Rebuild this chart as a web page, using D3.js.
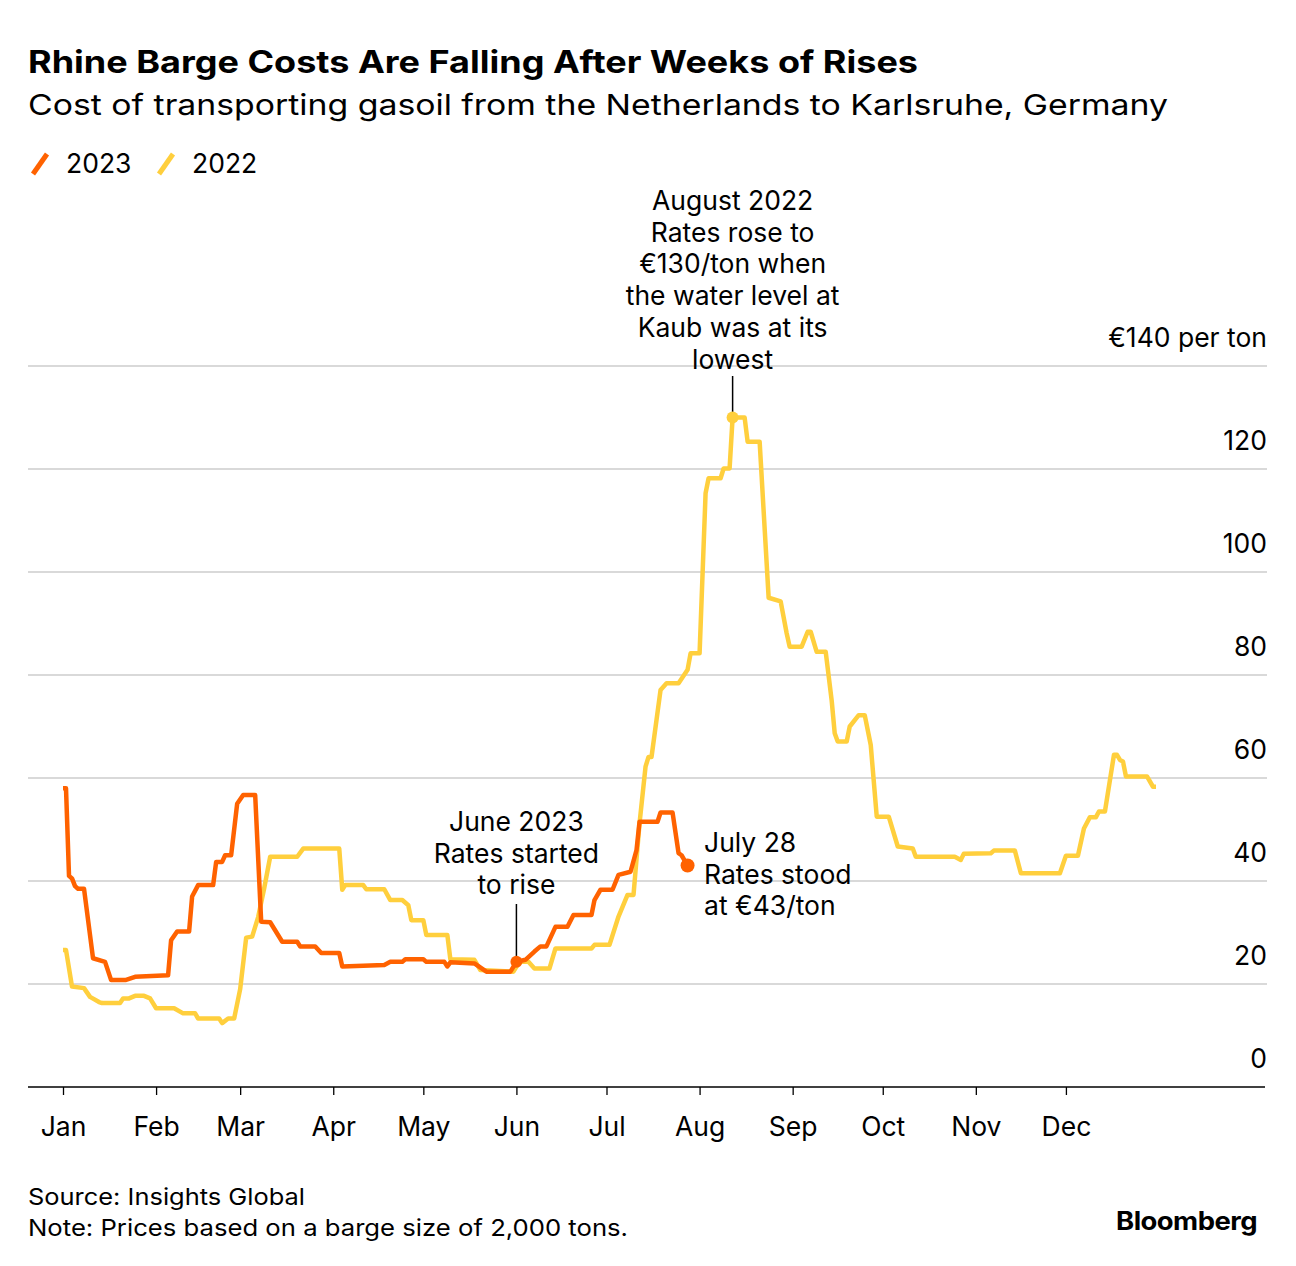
<!DOCTYPE html>
<html>
<head>
<meta charset="utf-8">
<script src="https://cdn.jsdelivr.net/npm/d3@7"></script>
<style>
  html, body { margin: 0; padding: 0; background: #fff; }
  svg { display: block; font-family: "Inter", "Liberation Sans", Arial, sans-serif; }
</style>
</head>
<body>
<svg id="chart" width="1296" height="1266"></svg>
<script>
// ---- data ----
const monthLabels = ["Jan","Feb","Mar","Apr","May","Jun","Jul","Aug","Sep","Oct","Nov","Dec"];
const yTicks = [0, 20, 40, 60, 80, 100, 120, 140];

const dates2023 = ["01-01","01-02","01-03","01-04","01-05","01-06","01-08","01-11","01-15","01-17","01-22","01-25",
  "02-05","02-06","02-08","02-12","02-13","02-15","02-20","02-21","02-23","02-24","02-26","02-28",
  "03-02","03-06","03-08","03-11","03-15","03-20","03-21","03-26","03-28",
  "04-03","04-04","04-18","04-20","04-24","04-25",
  "05-01","05-02","05-08","05-09","05-10","05-18","05-22","05-30",
  "06-01","06-04","06-07","06-09","06-11","06-14","06-18","06-20","06-26","06-27","06-29",
  "07-03","07-05","07-09","07-11","07-12","07-18","07-19","07-23","07-25","07-26","07-28"];
const values2023 = [58,58,41,40.5,39,38.5,38.5,25,24.3,20.8,20.8,21.4,
  21.7,28.5,30.2,30.2,37,39.2,39.2,43.7,43.7,45,45,55,
  56.7,56.7,32.1,32,28.2,28.2,27.3,27.3,26,
  26,23.4,23.7,24.3,24.3,24.8,
  24.8,24.3,24.3,23.4,24.2,24,22.4,22.4,
  24.3,24.7,26.3,27.3,27.3,31.1,31.1,33.4,33.4,36.3,38.3,
  38.3,41.2,41.8,46,51.5,51.5,53.3,53.3,45.4,45,43];

const dates2022 = ["01-01","01-02","01-04","01-08","01-10","01-13","01-14","01-20","01-21","01-23","01-25","01-28","01-30",
  "02-01","02-07","02-10","02-14","02-15","02-22","02-23","02-25","02-27",
  "03-01","03-03","03-05","03-07","03-09","03-11","03-20","03-22",
  "04-03","04-04","04-05","04-11","04-12","04-18","04-20","04-24","04-26","04-27",
  "05-01","05-02","05-09","05-10","05-18","05-20","05-31",
  "06-02","06-05","06-07","06-12","06-14","06-26","06-27",
  "07-02","07-05","07-08","07-10","07-12","07-14","07-15","07-16","07-19","07-21","07-25","07-28","07-29",
  "08-01","08-03","08-04","08-08","08-09","08-11","08-12","08-16","08-17","08-21","08-24","08-28","08-30","08-31",
  "09-04","09-06","09-07","09-09","09-12","09-14","09-15","09-16","09-19","09-20","09-23","09-25","09-27","09-29",
  "10-03","10-06","10-11","10-12","10-25","10-27","10-28",
  "11-06","11-07","11-14","11-16","11-29",
  "12-01","12-05","12-07","12-09","12-11","12-12","12-14","12-17","12-18","12-19","12-20","12-21","12-28","12-30","12-31"];
const values2022 = [26.6,26.6,19.5,19.2,17.5,16.5,16.3,16.3,17.2,17.2,17.7,17.7,17.2,
  15.3,15.3,14.3,14.3,13.3,13.3,12.4,13.3,13.3,
  19,29,29.2,33,38.6,44.7,44.7,46.3,
  46.3,38.3,39.2,39.2,38.4,38.4,36.3,36.3,35.3,32.4,
  32.4,29.5,29.5,24.8,24.7,22.7,22.4,
  24.3,24.3,23,23,26.9,26.9,27.6,
  27.6,33.1,37.3,37.3,51.2,62.2,64.1,64.1,77.1,78.4,78.4,81,84.2,
  84.2,115.3,118.2,118.2,120.1,120.1,130,130,125.3,125.3,95,94.3,88.1,85.5,
  85.5,88.4,88.4,84.5,84.5,75,68.7,67.1,67.1,70,72.2,72.2,66.4,52.5,
  52.5,46.7,46.3,44.7,44.7,44.1,45.3,
  45.4,45.9,45.9,41.5,41.5,
  44.9,44.9,50.2,52.4,52.4,53.5,53.5,64.5,64.5,63.5,63.2,60.3,60.3,58.3,58.3];

const seriesNames = ["2023", "2022"];
const colors = { "2023": "#ff6200", "2022": "#ffcf3d" };

// ---- setup ----
const parse = d3.timeParse("%Y-%m-%d");
const toDate = s => parse("2023-" + s);
const s2023 = dates2023.map((d, i) => ({ date: toDate(d), value: values2023[i] }));
const s2022 = dates2022.map((d, i) => ({ date: toDate(d), value: values2022[i] }));

const svg = d3.select("#chart");
const plotLeft = 28, plotRight = 1267;
const fs = 26.5;
const x = d3.scaleTime().domain([new Date(2023, 0, 1), new Date(2024, 0, 1)]).range([63, 1159]);
const y = d3.scaleLinear().domain([0, 140]).range([1087, 366]);

// fit text to a target width (reference font is wider than installed ones)
function fit(sel, w) {
  const n = sel.node();
  const cur = n.getComputedTextLength();
  if (Math.abs(cur - w) > 2) sel.attr("textLength", w).attr("lengthAdjust", "spacingAndGlyphs");
  return sel;
}

// title
fit(svg.append("text").attr("x", 28).attr("y", 73)
  .attr("font-size", 31).attr("font-weight", 700).attr("fill", "#000")
  .text("Rhine Barge Costs Are Falling After Weeks of Rises"), 890);
fit(svg.append("text").attr("x", 28).attr("y", 115)
  .attr("font-size", 29).attr("fill", "#000")
  .text("Cost of transporting gasoil from the Netherlands to Karlsruhe, Germany"), 1140);

// legend
const legend = svg.append("g");
[["2023", 30, 66], ["2022", 156, 192]].forEach(([name, sx, tx]) => {
  legend.append("line").attr("x1", sx + 3).attr("y1", 174).attr("x2", sx + 17).attr("y2", 154)
    .attr("stroke", colors[name]).attr("stroke-width", 5);
  legend.append("text").attr("x", tx).attr("y", 173).attr("font-size", fs).attr("fill", "#000").text(name);
});

// gridlines
svg.append("g").selectAll("line").data(yTicks.filter(d => d > 0)).join("line")
  .attr("x1", plotLeft).attr("x2", plotRight)
  .attr("y1", d => y(d)).attr("y2", d => y(d))
  .attr("stroke", "#d9d9d9").attr("stroke-width", 2);

// y labels
svg.append("g").selectAll("text").data(yTicks).join("text")
  .attr("x", plotRight).attr("y", d => y(d) - 19)
  .attr("text-anchor", "end").attr("font-size", fs).attr("fill", "#000")
  .text(d => d === 140 ? "€140 per ton" : d);

// x axis
const xAxis = d3.axisBottom(x)
  .tickValues(d3.range(12).map(m => new Date(2023, m, 1)))
  .tickFormat((d, i) => monthLabels[i])
  .tickSize(8).tickPadding(22);
const gx = svg.append("g").attr("transform", `translate(0,${y(0)})`).call(xAxis);
gx.select(".domain").remove();
gx.selectAll(".tick line").attr("stroke", "#000").attr("stroke-width", 1.3);
gx.selectAll(".tick text").attr("font-size", fs).attr("fill", "#000")
  .attr("font-family", "Inter, Liberation Sans, Arial, sans-serif");
svg.append("line").attr("x1", plotLeft).attr("x2", 1265).attr("y1", y(0)).attr("y2", y(0))
  .attr("stroke", "#000").attr("stroke-width", 1.5);

// lines
const line = d3.line().x(d => x(d.date)).y(d => y(d.value));
svg.append("path").datum(s2022).attr("d", line).attr("fill", "none")
  .attr("stroke", colors["2022"]).attr("stroke-width", 4.5).attr("stroke-linejoin", "round");
svg.append("path").datum(s2023).attr("d", line).attr("fill", "none")
  .attr("stroke", colors["2023"]).attr("stroke-width", 4.5).attr("stroke-linejoin", "round");

// annotations
const peak = s2022.find(d => d.value === 130);
const junePt = s2023.find(d => d3.timeFormat("%m-%d")(d.date) === "06-01");
const lastPt = s2023[s2023.length - 1];

function multiline(lines, xPos, yStart, anchor) {
  const t = svg.append("text").attr("font-size", fs).attr("fill", "#000").attr("text-anchor", anchor);
  lines.forEach((l, i) => t.append("tspan").attr("x", xPos).attr("y", yStart + i * 31.7).text(l));
}

// August 2022
svg.append("line").attr("x1", x(peak.date)).attr("x2", x(peak.date)).attr("y1", 376).attr("y2", y(peak.value))
  .attr("stroke", "#000").attr("stroke-width", 1.5);
svg.append("circle").attr("cx", x(peak.date)).attr("cy", y(peak.value)).attr("r", 6).attr("fill", colors["2022"]);
multiline(["August 2022", "Rates rose to", "€130/ton when", "the water level at", "Kaub was at its", "lowest"],
  x(peak.date), 210, "middle");

// June 2023
svg.append("line").attr("x1", x(junePt.date)).attr("x2", x(junePt.date)).attr("y1", 904).attr("y2", y(junePt.value))
  .attr("stroke", "#000").attr("stroke-width", 1.5);
svg.append("circle").attr("cx", x(junePt.date)).attr("cy", y(junePt.value)).attr("r", 6).attr("fill", colors["2023"]);
multiline(["June 2023", "Rates started", "to rise"], x(junePt.date), 831, "middle");

// July 28
svg.append("circle").attr("cx", x(lastPt.date)).attr("cy", y(lastPt.value)).attr("r", 7).attr("fill", colors["2023"]);
multiline(["July 28", "Rates stood", "at €43/ton"], 704, 852, "start");

// footer
fit(svg.append("text").attr("x", 28).attr("y", 1205).attr("font-size", 23.5).attr("fill", "#000")
  .text("Source: Insights Global"), 277);
fit(svg.append("text").attr("x", 28).attr("y", 1236).attr("font-size", 23.5).attr("fill", "#000")
  .text("Note: Prices based on a barge size of 2,000 tons."), 600);
fit(svg.append("text").attr("x", 1116).attr("y", 1230).attr("font-size", 25).attr("font-weight", 700)
  .attr("fill", "#000").attr("letter-spacing", -0.5).text("Bloomberg"), 141);
</script>
</body>
</html>
